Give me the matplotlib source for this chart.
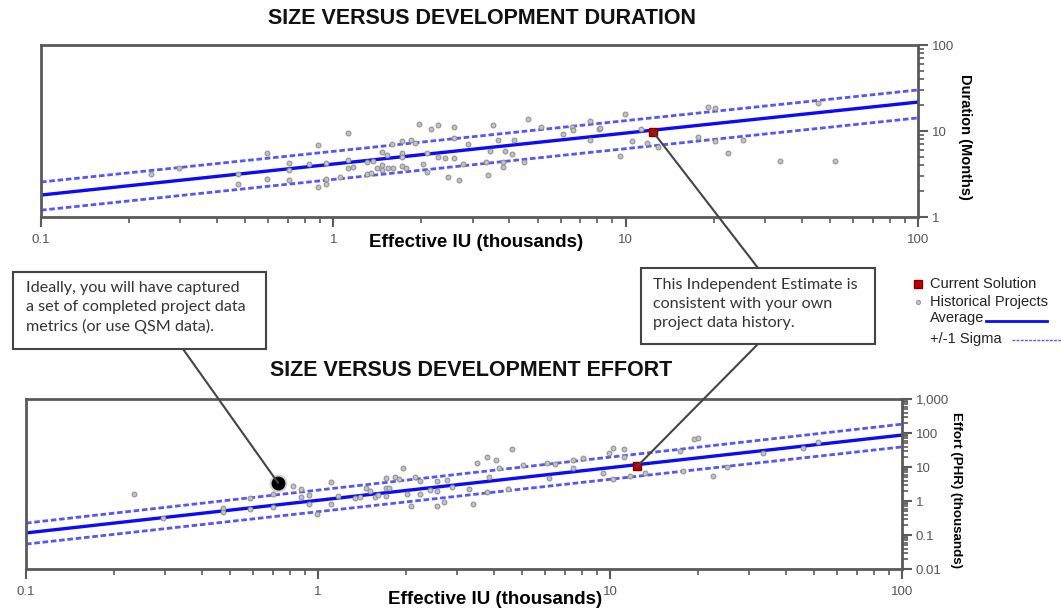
import matplotlib
matplotlib.use("Agg")
import matplotlib.pyplot as plt
from matplotlib.patches import Rectangle, ConnectionPatch
from matplotlib.lines import Line2D
from matplotlib.ticker import FixedLocator, FixedFormatter, LogLocator, NullFormatter

plt.rcParams['font.family'] = ['Liberation Sans', 'DejaVu Sans']

# ---- size vs duration (months) ----
dur_hist_x = [0.238, 0.297, 0.472, 0.472, 0.593, 0.593, 0.705, 0.705, 0.705, 0.826,
              0.887, 0.887, 0.944, 0.944, 0.944, 1.05, 1.12, 1.12, 1.12, 1.17,
              1.30, 1.30,
              1.96, 2.16, 2.28, 2.59, 3.52, 4.63, 5.14, 6.56, 7.55, 8.11,
              1.59, 1.72, 1.84, 1.90, 2.59, 2.89, 3.66, 4.15, 6.11, 6.60, 7.55,
              1.47, 1.53, 1.72, 1.72, 2.09, 2.28, 2.41, 2.59, 3.44, 3.87, 4.09,
              1.37, 2.03, 2.78, 3.33, 3.81, 4.49,
              1.41, 1.47, 1.47, 1.54, 1.60, 1.72, 1.77, 2.09, 3.81, 3.38, 2.47, 2.69, 1.35,
              8.14, 9.96, 11.3, 10.5, 11.8, 12.9, 9.56, 17.7, 19.2, 20.2, 20.2, 25.2,
              22.4, 33.7, 45.6, 52.0]
dur_hist_y = [3.16, 3.71, 3.16, 2.42, 5.55, 2.77, 4.24, 3.52, 2.69, 4.13,
              6.88, 2.23, 4.24, 2.77, 2.42, 2.92, 9.48, 4.60, 3.71, 3.81,
              4.36, 3.16,
              12.1, 10.5, 11.7, 11.1, 11.7, 13.8, 11.1, 11.1, 13.1, 10.5,
              7.06, 7.65, 7.85, 7.25, 8.29, 7.06, 7.85, 7.85, 9.23, 10.3, 7.85,
              5.70, 5.26, 5.55, 4.99, 5.55, 4.99, 4.85, 4.85, 5.85, 5.85, 5.40,
              4.48, 4.13, 4.13, 4.36, 4.36, 4.36,
              3.71, 4.02, 3.52, 3.71, 3.71, 3.92, 3.71, 3.34, 3.81, 3.08, 2.92, 2.69, 3.25,
              10.8, 15.8, 10.5, 7.65, 7.25, 6.51, 5.12, 8.51, 19.0, 18.5, 7.65, 7.85,
              5.55, 4.48, 21.2, 4.48]
dur_current = (12.4, 9.8)

# ---- size vs effort (PHR, thousands) ----
eff_hist_x = [0.234, 0.295, 0.473, 0.473, 0.585, 0.585, 0.701, 0.701, 0.821, 0.875,
              0.875, 0.931, 0.931, 0.993, 1.11, 1.11, 1.17,
              1.34, 1.39, 1.46, 1.51, 1.57, 1.60, 1.71, 1.71, 1.71, 1.75,
              1.83, 1.89, 1.95, 2.02, 2.15, 2.24, 2.24, 2.08, 2.42, 2.56,
              2.56, 2.56, 2.70, 2.77, 2.88, 3.29, 3.40, 3.51, 3.79, 3.85,
              4.07, 4.17, 3.79, 4.62, 4.48, 5.04, 6.08, 6.48, 6.18, 7.47,
              7.47, 8.08,
              9.46, 9.9, 10.2, 10.2, 11.2, 11.2, 11.7, 13.2, 17.4, 17.8,
              19.4, 20.0, 22.5, 25.2, 33.4, 45.8, 51.5]
eff_hist_y = [1.61, 0.316, 0.622, 0.475, 1.22, 0.582, 1.61, 0.666, 2.76, 2.25,
              1.31, 1.50, 0.816, 0.415, 3.62, 0.816, 1.40,
              1.22, 1.31, 2.41, 1.97, 1.31, 1.50, 4.75, 2.41, 1.40, 2.41,
              5.08, 4.44, 9.35, 1.61, 5.08, 3.87, 1.61, 0.713, 2.11, 3.87,
              1.97, 0.713, 0.935, 4.15, 2.58, 2.25, 0.816, 13.1, 19.7, 5.08,
              16.1, 9.35, 1.84, 33.8, 2.25, 11.5, 13.1, 12.2, 4.75, 16.1,
              9.35, 18.4,
              6.66, 25.8, 36.2, 4.44, 19.7, 33.8, 5.43, 6.66, 29.6, 7.62,
              66.6, 71.3, 5.43, 10.0, 25.8, 36.2, 54.3]
eff_current = (12.4, 10.5)
eff_highlight = (0.73, 3.4)

# trend lines read at the left and right edges of the plots
fit_x = [0.1, 100]
dur_avg = [1.8, 21.7]
dur_hi = [2.55, 30.0]
dur_lo = [1.2, 14.2]
eff_avg = [0.115, 87.0]
eff_hi = [0.224, 182.0]
eff_lo = [0.054, 39.0]

x_ticks = [0.1, 1, 10, 100]
x_tick_labels = ['0.1', '1', '10', '100']
dur_ticks = [1, 10, 100]
dur_tick_labels = ['1', '10', '100']
eff_ticks = [0.01, 0.1, 1, 10, 100, 1000]
eff_tick_labels = ['0.01', '0.1', '1', '10', '100', '1,000']

W, H = 1061, 612
FRAME = '#5a5a5a'
AVG_BLUE = '#0a0aff'
SIG_BLUE = '#5555ff'
HIST_FC = '#c2c2c2'
HIST_EC = '#8c8c8c'
CUR_RED = '#c00000'
BOX_FONT = ['Lato', 'DejaVu Sans']


def fx(px):
    return px / W


def fy(py):
    return 1 - py / H


def style_axis(ax, yticks, ylabels, ylim):
    ax.set_xscale('log')
    ax.set_yscale('log')
    ax.set_xlim(0.1, 100)
    ax.set_ylim(*ylim)
    for sp in ax.spines.values():
        sp.set_color(FRAME)
        sp.set_linewidth(2)
    ax.yaxis.tick_right()
    ax.yaxis.set_label_position('right')
    ax.xaxis.set_major_locator(FixedLocator(x_ticks))
    ax.xaxis.set_major_formatter(FixedFormatter(x_tick_labels))
    ax.xaxis.set_minor_locator(LogLocator(base=10, subs=range(2, 10)))
    ax.xaxis.set_minor_formatter(NullFormatter())
    ax.yaxis.set_major_locator(FixedLocator(yticks))
    ax.yaxis.set_major_formatter(FixedFormatter(ylabels))
    ax.yaxis.set_minor_locator(LogLocator(base=10, subs=range(2, 10)))
    ax.yaxis.set_minor_formatter(NullFormatter())
    ax.tick_params(which='major', direction='out', length=7, width=1.5,
                   color=FRAME, labelcolor='#555555', labelsize=9.5, pad=3)
    ax.tick_params(which='minor', direction='out', length=4, width=1.2, color=FRAME)
    ax.tick_params(axis='x', which='major', pad=5)


def draw_fit(ax, avg, hi, lo):
    ax.plot(fit_x, hi, color=SIG_BLUE, lw=2, ls=(0, (2, 1)))
    ax.plot(fit_x, lo, color=SIG_BLUE, lw=2, ls=(0, (2, 1)))
    ax.plot(fit_x, avg, color=AVG_BLUE, lw=2.4)


if __name__ == '__main__':
    fig = plt.figure(figsize=(W / 100, H / 100), dpi=100)

    ax1 = fig.add_axes([fx(41), fy(217), fx(918) - fx(41), fy(45) - fy(217)])
    style_axis(ax1, dur_ticks, dur_tick_labels, (1, 100))
    draw_fit(ax1, dur_avg, dur_hi, dur_lo)
    ax1.plot(dur_hist_x, dur_hist_y, 'o', ms=3.5, mfc=HIST_FC, mec=HIST_EC, mew=0.7, zorder=3)
    ax1.plot(*dur_current, 's', ms=6, mfc=CUR_RED, mec='#800000', zorder=4)
    ax1.set_xlabel('Effective IU (thousands)', fontsize=13.5, fontweight='bold')
    ax1.xaxis.set_label_coords(0.496, -0.151)
    ax1.xaxis.label.set_va('center')
    ax1.set_ylabel('Duration (Months)', fontsize=10.5, fontweight='bold', rotation=270)
    ax1.yaxis.set_label_coords(1.0536, 0.465)
    ax1.yaxis.label.set_va('center')

    ax2 = fig.add_axes([fx(26), fy(569), fx(902) - fx(26), fy(399) - fy(569)])
    style_axis(ax2, eff_ticks, eff_tick_labels, (0.01, 1000))
    draw_fit(ax2, eff_avg, eff_hi, eff_lo)
    ax2.plot(eff_hist_x, eff_hist_y, 'o', ms=3.5, mfc=HIST_FC, mec=HIST_EC, mew=0.7, zorder=3)
    ax2.plot(*eff_current, 's', ms=6, mfc=CUR_RED, mec='#800000', zorder=4)
    ax2.plot(*eff_highlight, 'o', ms=12, color='#cccccc', alpha=0.7, zorder=4)
    ax2.plot(*eff_highlight, 'o', ms=9, color='black', zorder=5)
    ax2.set_xlabel('Effective IU (thousands)', fontsize=13.5, fontweight='bold')
    ax2.xaxis.set_label_coords(0.535, -0.182)
    ax2.xaxis.label.set_va('center')
    ax2.set_ylabel('Effort (PHR) (thousands)', fontsize=9.6, fontweight='bold', rotation=270)
    ax2.yaxis.set_label_coords(1.0616, 0.465)
    ax2.yaxis.label.set_va('center')

    fig.text(fx(482), fy(18), 'SIZE VERSUS DEVELOPMENT DURATION', ha='center', va='center',
             fontsize=15.5, fontweight='bold', color='#111111')
    fig.text(fx(471), fy(370), 'SIZE VERSUS DEVELOPMENT EFFORT', ha='center', va='center',
             fontsize=15.5, fontweight='bold', color='#111111')

    # callout boxes
    fig.add_artist(Rectangle((fx(13), fy(349)), fx(266) - fx(13), fy(272) - fy(349),
                             transform=fig.transFigure, fc='white', ec='#444444', lw=1.5, zorder=6))
    fig.text(fx(26), fy(281), 'Ideally, you will have captured\na set of completed project data\n'
             'metrics (or use QSM data).', va='top', ha='left', family=BOX_FONT,
             fontsize=11.6, color='#333333', linespacing=1.45, zorder=7)
    fig.add_artist(Rectangle((fx(641), fy(344)), fx(875) - fx(641), fy(268) - fy(344),
                             transform=fig.transFigure, fc='white', ec='#444444', lw=1.5, zorder=6))
    fig.text(fx(653), fy(278), 'This Independent Estimate is\nconsistent with your own\n'
             'project data history.', va='top', ha='left', family=BOX_FONT,
             fontsize=11.6, color='#333333', linespacing=1.45, zorder=7)

    # connector lines
    for start, target, axis in [((fx(183), fy(349)), eff_highlight, ax2),
                                ((fx(758), fy(268)), dur_current, ax1),
                                ((fx(758), fy(344)), eff_current, ax2)]:
        con = ConnectionPatch(xyA=start, coordsA='figure fraction', xyB=target,
                              coordsB=axis.transData, color='#444444', lw=1.5, zorder=5)
        fig.add_artist(con)

    # legend
    fig.add_artist(Line2D([fx(918)], [fy(284)], marker='s', ms=6, mfc=CUR_RED, mec='#800000',
                          transform=fig.transFigure))
    fig.add_artist(Line2D([fx(918)], [fy(302)], marker='o', ms=3, mfc=HIST_FC, mec=HIST_EC,
                          mew=0.6, transform=fig.transFigure))
    fig.add_artist(Line2D([fx(986), fx(1047)], [fy(321), fy(321)], color=AVG_BLUE, lw=2,
                          transform=fig.transFigure))
    fig.add_artist(Line2D([fx(1012), fx(1061)], [fy(340), fy(340)], color=SIG_BLUE, lw=1,
                          ls=(0, (2, 1)), transform=fig.transFigure))
    for py, label in [(284, 'Current Solution'), (302, 'Historical Projects'),
                      (318, 'Average'), (339, '+/-1 Sigma')]:
        fig.text(fx(930), fy(py), label, va='center', ha='left', fontsize=10.5, color='#222222')

    plt.savefig('out.png', dpi=100)
